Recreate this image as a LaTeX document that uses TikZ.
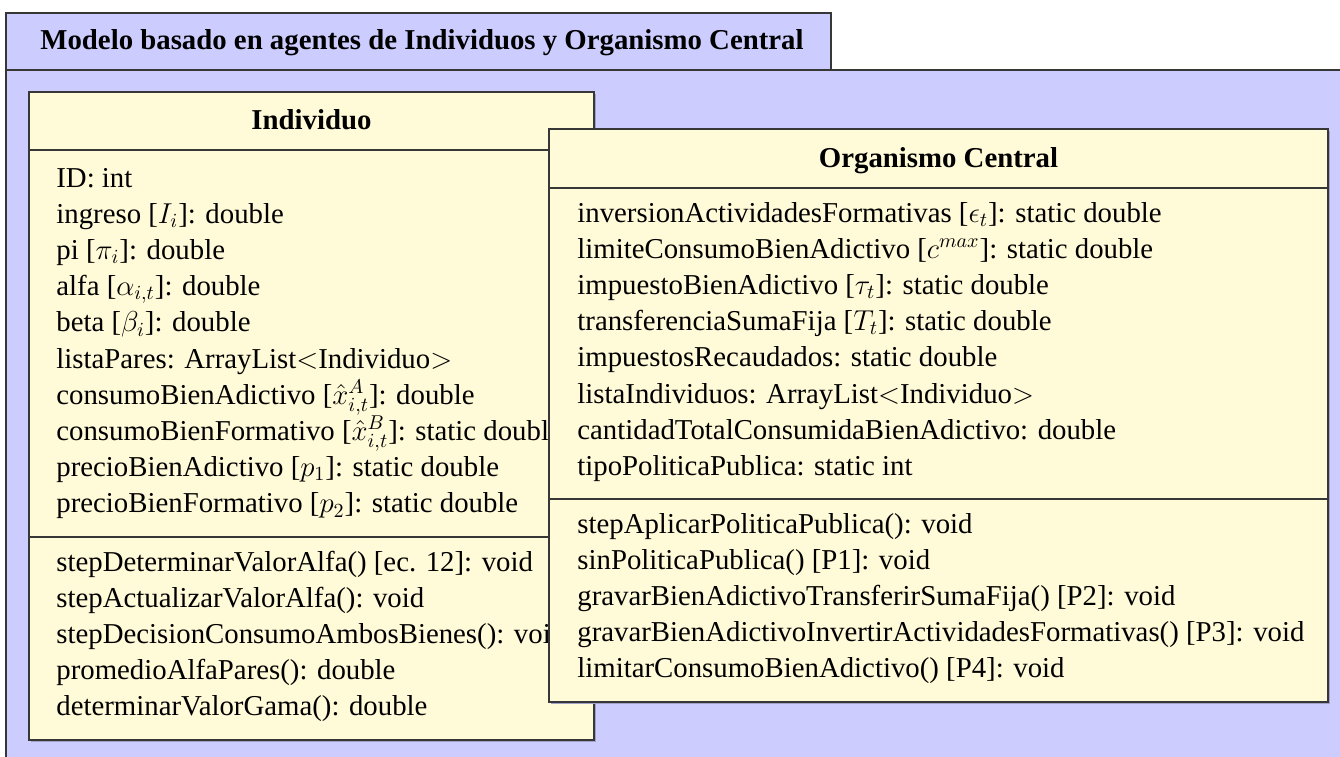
\documentclass[tikz,border=0pt]{standalone}
\usepackage{fontspec}
\setmainfont{Liberation Serif}
\definecolor{pkgblue}{RGB}{204,204,255}
\definecolor{clsyellow}{RGB}{255,250,215}
\definecolor{edgegray}{RGB}{55,55,55}
\definecolor{shadowc}{RGB}{160,160,200}
\begin{document}
\begin{tikzpicture}[x=0.5pt,y=-0.5pt,
  body/.style={anchor=base west, inner sep=0pt, text height=10.5pt, text depth=3.5pt,
    font=\fontsize{14.4}{18}\selectfont},
  heading/.style={anchor=base, inner sep=0pt, font=\fontsize{14.4}{18}\selectfont\bfseries},
  frame/.style={draw=edgegray, line width=0.6pt}]
\useasboundingbox (0,0) rectangle (1340,756);
\clip (0,0) rectangle (1340,756);
\fill[white] (0,0) rectangle (1340,756);
% package frame
\draw[frame, fill=pkgblue] (6,70) rectangle (1360,780);
\draw[frame, fill=pkgblue] (6,13) rectangle (831,70);
\node[heading] (pkgtitle) at (422,49) {Modelo basado en agentes de Individuos y Organismo Central};
% Individuo
\fill[shadowc] (31,94) rectangle (596,742);
\draw[frame, fill=clsyellow] (29,92) rectangle (594,740);
\draw[frame] (29,150) -- (594,150);
\draw[frame] (29,537) -- (594,537);
\node[heading] (indtitle) at (311.5,129) {Individuo};
\begin{scope}
\clip (29,92) rectangle (549,740);
\foreach \t [count=\i] in {
  {ID: int},
  {ingreso [$I_i$]: double},
  {pi [$\pi_i$]: double},
  {alfa [$\alpha_{i,t}$]: double},
  {beta [$\beta_i$]: double},
  {listaPares: ArrayList$<$Individuo$>$},
  {consumoBienAdictivo [$\hat{x}^A_{i,t}$]: double},
  {consumoBienFormativo [$\hat{x}^B_{i,t}$]: static double},
  {precioBienAdictivo [$p_1$]: static double},
  {precioBienFormativo [$p_2$]: static double}}
  \node[body] (inda\i) at (56,{187+36.2*(\i-1)}) {\t};
\foreach \t [count=\i] in {
  {stepDeterminarValorAlfa() [ec. 12]: void},
  {stepActualizarValorAlfa(): void},
  {stepDecisionConsumoAmbosBienes(): void},
  {promedioAlfaPares(): double},
  {determinarValorGama(): double}}
  \node[body] (indm\i) at (56,{571+36.2*(\i-1)}) {\t};
\end{scope}
% Organismo Central
\fill[shadowc] (551,131) rectangle (1330,704);
\draw[frame, fill=clsyellow] (549,129) rectangle (1328,702);
\draw[frame] (549,188) -- (1328,188);
\draw[frame] (549,499) -- (1328,499);
\node[heading] (orgtitle) at (938.5,167) {Organismo Central};
\foreach \t [count=\i] in {
  {inversionActividadesFormativas [$\epsilon_t$]: static double},
  {limiteConsumoBienAdictivo [$c^{max}$]: static double},
  {impuestoBienAdictivo [$\tau_t$]: static double},
  {transferenciaSumaFija [$T_t$]: static double},
  {impuestosRecaudados: static double},
  {listaIndividuos: ArrayList$<$Individuo$>$},
  {cantidadTotalConsumidaBienAdictivo: double},
  {tipoPoliticaPublica: static int}}
  \node[body] (orga\i) at (577,{222+36.2*(\i-1)}) {\t};
\foreach \t [count=\i] in {
  {stepAplicarPoliticaPublica(): void},
  {sinPoliticaPublica() [P1]: void},
  {gravarBienAdictivoTransferirSumaFija() [P2]: void},
  {gravarBienAdictivoInvertirActividadesFormativas() [P3]: void},
  {limitarConsumoBienAdictivo() [P4]: void}}
  \node[body] (orgm\i) at (577,{533+36.2*(\i-1)}) {\t};
\end{tikzpicture}
\end{document}
